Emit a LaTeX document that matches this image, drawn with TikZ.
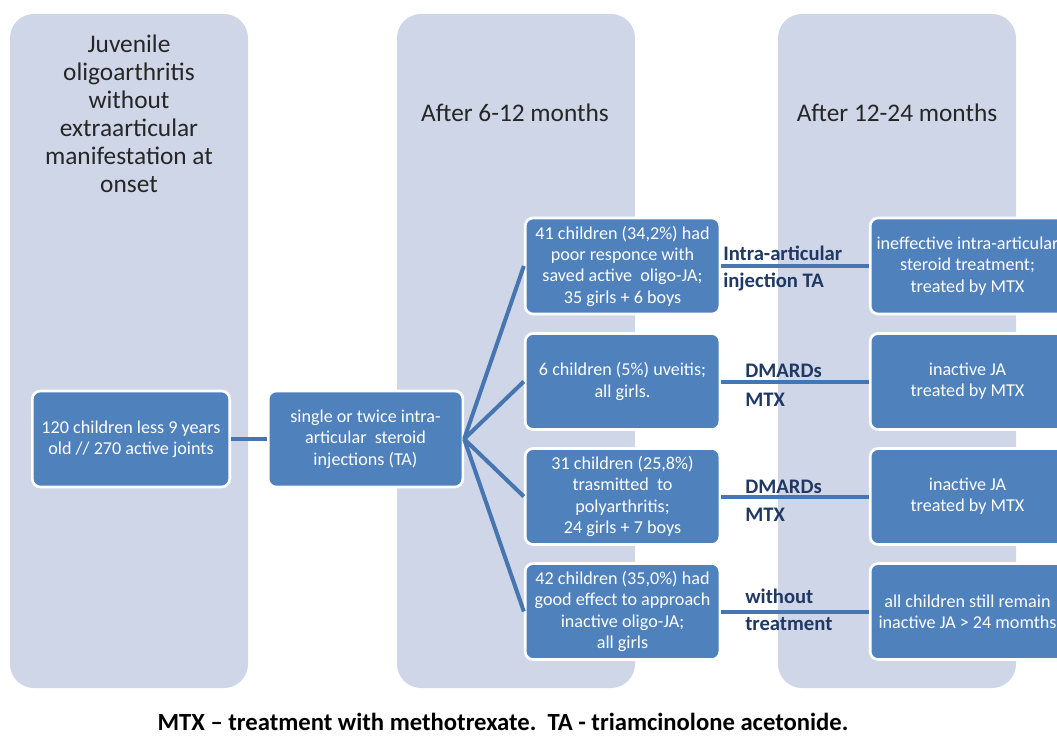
\documentclass[tikz,border=0pt]{standalone}
\usepackage{fontspec}
\setmainfont{Carlito}
\usepackage{xcolor}
\definecolor{panelbg}{HTML}{CFD6E7}
\definecolor{boxblue}{HTML}{4F81BD}
\definecolor{linkblue}{HTML}{4576B2}
\definecolor{labnavy}{HTML}{1F3864}
\definecolor{headgray}{HTML}{262626}

\begin{document}
\begin{tikzpicture}[x=0.75pt,y=-0.75pt,
    panel/.style={fill=panelbg, rounded corners=18pt},
    head/.style={text=headgray, font=\fontsize{19}{21}\selectfont, align=center},
    box/.style={draw=white, line width=2pt, fill=boxblue, rounded corners=6pt,
        text=white, align=center, font=\fontsize{13.6}{16}\selectfont,
        minimum width=146pt, minimum height=72pt, inner sep=1pt},
    link/.style={draw=linkblue, line width=3pt},
    lab/.style={text=labnavy, font=\fontsize{15.5}{17}\bfseries\selectfont, anchor=west, inner sep=0pt}]

\useasboundingbox (0,0) rectangle (1057,738);
\clip (0,0) rectangle (1057,738);

% --------------------------------------------------
% Background panels
% --------------------------------------------------
\fill[panel] (10,14) rectangle (248,688);
\fill[panel] (397,14) rectangle (635,688);
\fill[panel] (778,14) rectangle (1016,688);

\node[head] (onset) at (129,114)
    {Juvenile\\oligoarthritis\\without\\extraarticular\\manifestation at\\onset};
\node[head] (after6) at (515,113) {After 6-12 months};
\node[head] (after12) at (897,113) {After 12-24 months};

% --------------------------------------------------
% Start and first treatment
% --------------------------------------------------
\node[box, minimum width=148pt] (start) at (131,439)
    {120 children less 9 years\\old // 270 active joints};
\node[box] (inject) at (365.5,439)
    {single or twice intra-\\articular\ \ steroid\\injections (TA)};

\draw[link] (start) -- (inject);

% --------------------------------------------------
% Outcomes after 6-12 months
% --------------------------------------------------
\node[box] (poor) at (622.5,266)
    {41 children (34,2\%) had\\poor responce with\\saved active\ \ oligo-JA;\\35 girls + 6 boys};
\node[box] (uveitis) at (622.5,381.5)
    {6 children (5\%) uveitis;\\all girls.};
\node[box] (poly) at (622.5,496.5)
    {31 children (25,8\%)\\trasmitted\ \ to\\polyarthritis;\\24 girls + 7 boys};
\node[box] (good) at (622.5,611.5)
    {42 children (35,0\%) had\\good effect to approach\\inactive oligo-JA;\\all girls};

\foreach \n in {poor,uveitis,poly,good}
    \draw[link] (inject.east) -- (\n.west);

% --------------------------------------------------
% Outcomes after 12-24 months
% --------------------------------------------------
\node[box] (ineff) at (967.5,266)
    {ineffective intra-articular\\steroid treatment;\\treated by MTX};
\node[box] (inact1) at (967.5,381.5)
    {inactive JA\\treated by MTX};
\node[box] (inact2) at (967.5,496.5)
    {inactive JA\\treated by MTX};
\node[box] (remain) at (967.5,611.5)
    {all children still remain\\inactive JA > 24 momths};

\draw[link] (poor) -- (ineff);
\draw[link] (uveitis) -- (inact1);
\draw[link] (poly) -- (inact2);
\draw[link] (good) -- (remain);

\node[lab] (ia) at (723,253) {Intra-articular};
\node[lab] (inj) at (723,282) {injection TA};
\node[lab] (dm1) at (745,371) {DMARDs};
\node[lab] (mtx1) at (745,400) {MTX};
\node[lab] (dm2) at (745,487) {DMARDs};
\node[lab] (mtx2) at (745,515) {MTX};
\node[lab] (wo) at (745,596) {without};
\node[lab] (tr) at (745,624) {treatment};

% --------------------------------------------------
% Footnote
% --------------------------------------------------
\node[font=\fontsize{18.5}{20}\bfseries\selectfont] (note) at (503,722)
    {MTX -- treatment with methotrexate.\ \ TA - triamcinolone acetonide.};

\end{tikzpicture}
\end{document}
